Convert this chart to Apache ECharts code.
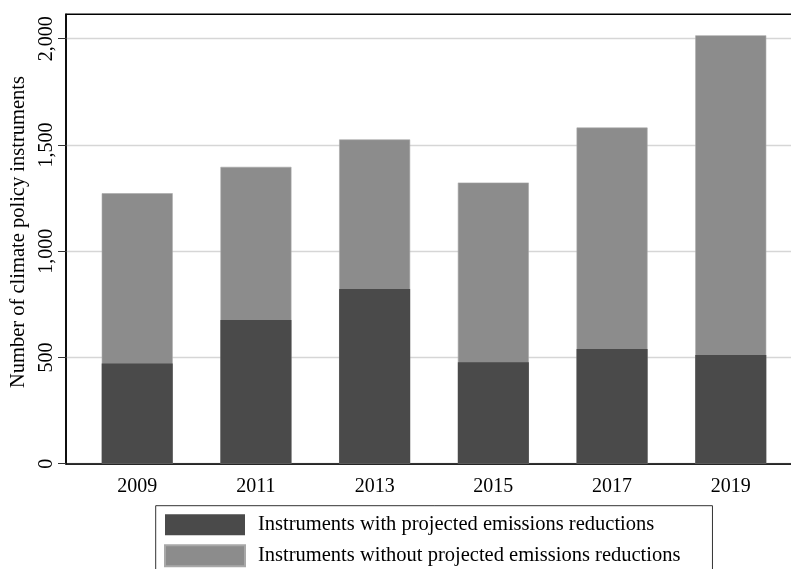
<!DOCTYPE html>
<html>
<head>
<meta charset="utf-8">
<script src="https://cdn.jsdelivr.net/npm/echarts@6/dist/echarts.min.js"></script>
<style>
html,body{margin:0;padding:0;background:#fff;}
#chart{width:791px;height:569px;}
</style>
</head>
<body>
<div id="chart"></div>
<script>
const years = [2009, 2011, 2013, 2015, 2017, 2019];
const withReductions = [472, 676, 822, 478, 540, 511];
const withoutReductions = [801, 721, 704, 845, 1042, 1505];
const yTicks = [0, 500, 1000, 1500, 2000];
const nameWith = 'Instruments with projected emissions reductions';
const nameWithout = 'Instruments without projected emissions reductions';

const totals = years.map((y, i) => [y, withReductions[i] + withoutReductions[i]]);
const darkData = years.map((y, i) => [y, withReductions[i]]);

const FONT = 'Liberation Serif';
const chart = echarts.init(document.getElementById('chart'));
chart.setOption({
  animation: false,
  backgroundColor: '#fff',
  textStyle: { fontFamily: FONT },
  grid: {
    left: 66, top: 14.3, right: -11, bottom: 105.3,
    outerBoundsMode: 'none',
    containLabel: false,
    show: true, borderColor: '#000', borderWidth: 1.5, backgroundColor: 'transparent'
  },
  xAxis: {
    type: 'value',
    min: 2007.8, max: 2020.2,
    axisLine: { show: true, lineStyle: { color: '#000', width: 1.5 } },
    axisTick: { show: false },
    splitLine: { show: false },
    axisLabel: {
      customValues: years,
      formatter: v => String(v),
      color: '#000', fontFamily: FONT, fontSize: 20, margin: 13
    }
  },
  yAxis: {
    type: 'value',
    min: 0, max: 2115,
    name: 'Number of climate policy instruments',
    nameLocation: 'middle',
    nameGap: 35,
    nameTextStyle: { color: '#000', fontFamily: FONT, fontSize: 20.5, padding: [0, 0, 0, 14] },
    axisLine: { show: true, lineStyle: { color: '#000', width: 1.5 } },
    axisTick: { show: true, length: 8, customValues: yTicks, lineStyle: { color: '#333', width: 1 } },
    splitLine: { show: true, lineStyle: { color: '#d6d6d6', width: 1.3 } },
    axisLabel: {
      customValues: yTicks,
      rotate: 90,
      margin: 9,
      formatter: v => v.toLocaleString('en-US'),
      color: '#000', fontFamily: FONT, fontSize: 20
    }
  },
  legend: {
    orient: 'vertical',
    left: 155.7, top: 505.7,
    height: 80,
    data: [nameWith, nameWithout],
    icon: 'rect',
    itemWidth: 80, itemHeight: 21, itemGap: 9,
    padding: [8.6, 32, 12, 8.3],
    borderColor: '#333', borderWidth: 1,
    textStyle: { color: '#000', fontFamily: FONT, fontSize: 20.5, padding: [6, 0, 0, 8] }
  },
  series: [
    {
      name: nameWithout,
      type: 'bar',
      barWidth: 71,
      barGap: '-100%',
      data: totals,
      itemStyle: { color: '#8c8c8c', borderColor: '#a8a8a8', borderWidth: 0.6 }
    },
    {
      name: nameWith,
      type: 'bar',
      barWidth: 71,
      barGap: '-100%',
      data: darkData,
      itemStyle: { color: '#4a4a4a' }
    }
  ]
});
</script>
</body>
</html>
